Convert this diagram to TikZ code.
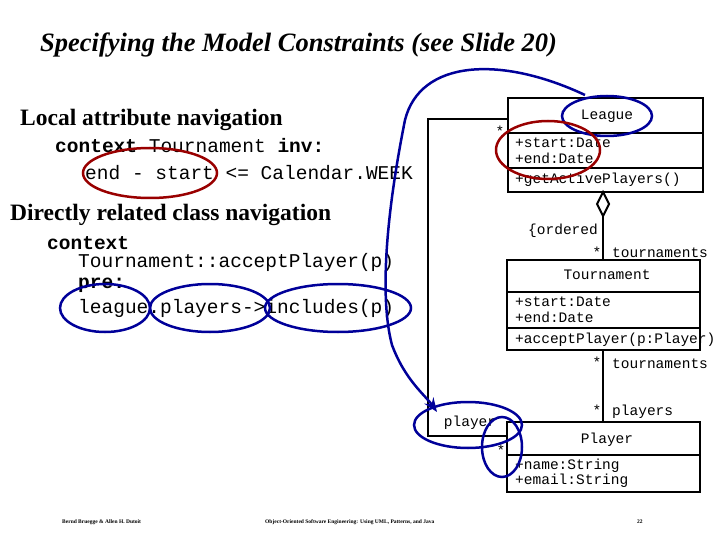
\documentclass[tikz,border=0pt]{standalone}
\usepackage{fontspec}
\setmainfont{Liberation Serif}
\setmonofont{Liberation Mono}
\usetikzlibrary{positioning,arrows.meta}
\tikzset{
  cls/.style={draw,line width=2pt},
  mono/.style={font=\ttfamily\fontsize{14.5}{16}\selectfont,inner sep=0pt},
  code/.style={font=\ttfamily\fontsize{19.5}{22}\selectfont,anchor=west,inner sep=0pt},
  head/.style={font=\bfseries\fontsize{23.5}{26}\selectfont,anchor=west,inner sep=0pt},
  foot/.style={font=\bfseries\fontsize{5.5}{6}\selectfont,anchor=west,inner sep=0pt},
  blu/.style={draw=blue!60!black,line width=2.5pt},
  rd/.style={draw=red!60!black,line width=2.5pt},
}
\begin{document}
\begin{tikzpicture}[x=1pt,y=-1pt]
    \useasboundingbox (0,0) rectangle (720,540);
    % title and texts
    \node[anchor=west,inner sep=0pt,font=\bfseries\itshape\fontsize{26.5}{30}\selectfont] (title) at (40,45) {Specifying the Model Constraints (see Slide 20)};
    \node[head] (h1) at (20,120) {Local attribute navigation};
    \node[code] (c1) at (55,146) {\textbf{context} Tournament \textbf{inv:}};
    \node[code] (c2) at (85,173) {end - start <= Calendar.WEEK};
    \node[head] (h2) at (10,215) {Directly related class navigation};
    \node[code] (c3) at (47,243) {\textbf{context}};
    \node[code] (c4) at (78,262) {Tournament::acceptPlayer(p)};
    \node[code] (c5) at (78,285) {\textbf{pre:}};
    \node[code] (c6) at (78,308) {league.players->includes(p)};
    % classes
    \draw[cls] (508,98) rectangle (703,192);
    \draw[cls] (508,133) -- (703,133) (508,168) -- (703,168);
    \node[mono] (league) at (607,116) {League};
    \node[mono,anchor=west] (la1) at (515,143) {+start:Date};
    \node[mono,anchor=west] (la2) at (515,158) {+end:Date};
    \node[mono,anchor=west] (lm) at (515,180) {+getActivePlayers()};
    \draw[cls] (507,260) rectangle (700,350);
    \draw[cls] (507,292) -- (700,292) (507,328) -- (700,328);
    \node[mono] (tour) at (607,275) {Tournament};
    \node[mono,anchor=west] (ta1) at (515,302) {+start:Date};
    \node[mono,anchor=west] (ta2) at (515,317) {+end:Date};
    \node[mono,anchor=west] (tm) at (515,340) {+acceptPlayer(p:Player)};
    \draw[cls] (507,422) rectangle (700,492);
    \draw[cls] (507,455) -- (700,455);
    \node[mono] (player) at (607,440) {Player};
    \node[mono,anchor=west] (pa1) at (515,466) {+name:String};
    \node[mono,anchor=west] (pa2) at (515,481) {+email:String};
    % associations
    \coordinate (dtop) at (603,192);
    \draw[line width=2pt] (603,216) -- (603,260);
    \draw[line width=2pt,fill=white] (dtop) -- (609,204) -- (603,216) -- (597,204) -- cycle;
    \draw[line width=2pt] (603,350) -- (603,422);
    \draw[line width=2pt] (508,119) -- (428,119) -- (428,436) -- (507,436);
    \node[mono] (m1) at (500,131) {*};
    \node[mono] (m2) at (470,423) {player};
    \node[mono] (m3) at (501,450) {*};
    \node[mono] (ord) at (563,231) {\{ordered};
    \node[mono] (m4) at (597,252) {*};
    \node[mono,anchor=west] (r1) at (612,253) {tournaments};
    \node[mono] (m5) at (597,362) {*};
    \node[mono,anchor=west] (r2) at (612,364) {tournaments};
    \node[mono] (m6) at (597,410) {*};
    \node[mono,anchor=west] (r3) at (612,412) {players};
    % highlights
    \draw[blu] (607,116) ellipse (45 and 20);
    \draw[rd] (548,150) ellipse (52 and 29);
    \draw[rd] (150,173) ellipse (67 and 25);
    \draw[blu] (105,308) ellipse (45 and 24);
    \draw[blu] (210,308) ellipse (60 and 24);
    \draw[blu] (338,308) ellipse (73 and 24);
    \draw[blu] (468,425) ellipse (54 and 23);
    \draw[blu] (502,447) ellipse (20 and 30);
    \draw[blu,-{Stealth[length=14pt,width=11pt]}] (585,95) .. controls (500,55) and (420,60) .. (405,120)
      .. controls (385,220) and (380,300) .. (392,345)
      .. controls (405,380) and (425,395) .. (437,412);
    % footer
    \node[foot] (f1) at (62,522) {Bernd Bruegge \& Allen H. Dutoit};
    \node[foot] (f2) at (265,522) {Object-Oriented Software Engineering: Using UML, Patterns, and Java};
    \node[foot] (f3) at (637,522) {22};
\end{tikzpicture}
\end{document}
